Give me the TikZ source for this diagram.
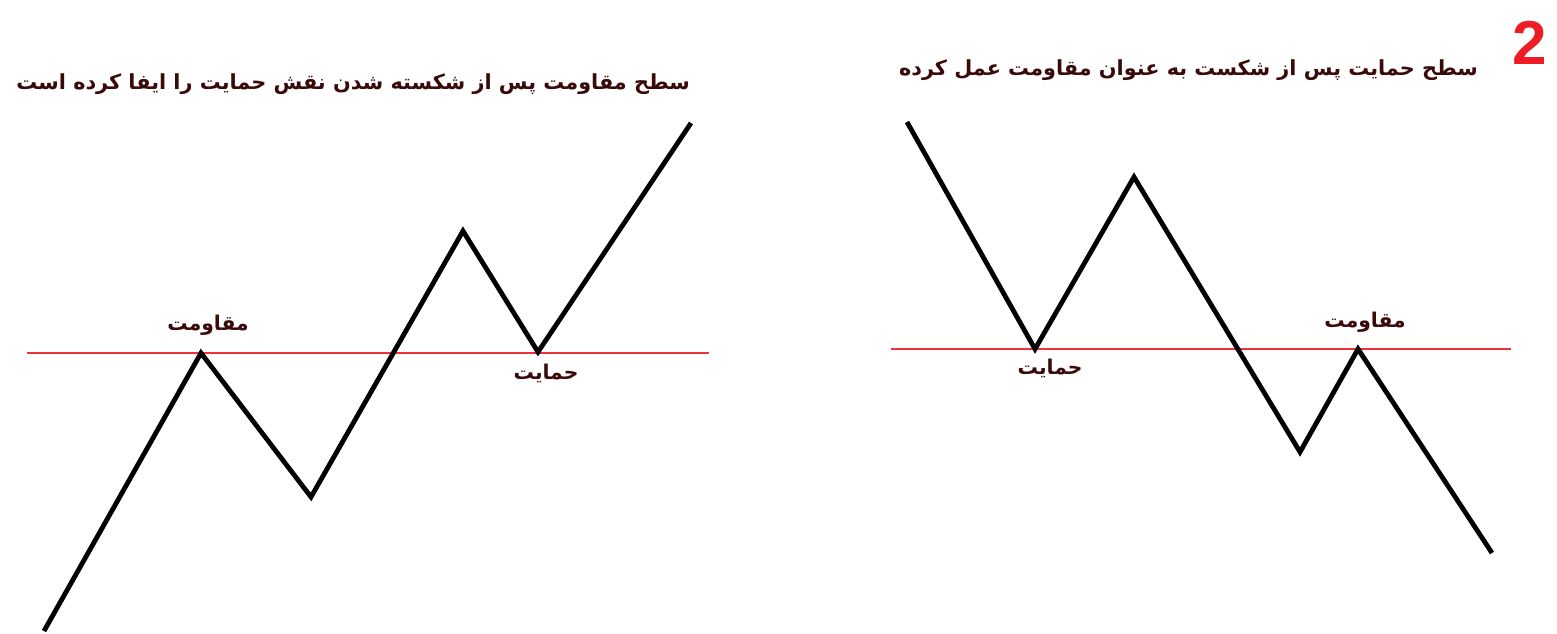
\documentclass[tikz,border=0pt]{standalone}
\usepackage{fontspec}
\TeXXeTstate=1
\newfontfamily\arabicfont[Script=Arabic]{DejaVu Sans}
\setmainfont{Liberation Sans}
\definecolor{txtc}{HTML}{3A0A0A}
\definecolor{lvl}{HTML}{F0303A}
\definecolor{numc}{HTML}{EE1C25}
\begin{document}
\begin{tikzpicture}[x=1pt,y=-1pt,
  price/.style={line width=4.8pt, black, line join=miter},
  level/.style={line width=1.6pt, lvl},
  title/.style={text=txtc, font=\arabicfont\bfseries\fontsize{20.8}{24}\selectfont, inner sep=0pt},
  lab/.style={text=txtc, font=\arabicfont\bfseries\fontsize{20.3}{24}\selectfont, inner sep=0pt}]
\useasboundingbox (0,0) rectangle (1557,633);
% left panel
\coordinate (l1) at (44,631);
\coordinate (l2) at (201,353);
\coordinate (l3) at (311,497);
\coordinate (l4) at (463,231);
\coordinate (l5) at (538,352);
\coordinate (l6) at (691,123);
\coordinate (la) at (27,353);
\coordinate (lb) at (709,353);
\draw[level] (la) -- (lb);
\draw[price] (l1) -- (l2) -- (l3) -- (l4) -- (l5) -- (l6);
\node[title, anchor=east] (lt) at (690,84) {\beginR سطح مقاومت پس از شکسته شدن نقش حمایت را ایفا کرده است\endR};
\node[lab] (lr) at (208,325) {\beginR مقاومت\endR};
\node[lab] (ls) at (546,373) {\beginR حمایت\endR};
% right panel
\coordinate (r1) at (907,122);
\coordinate (r2) at (1035,349);
\coordinate (r3) at (1134,177);
\coordinate (r4) at (1300,452);
\coordinate (r5) at (1358,349);
\coordinate (r6) at (1492,553);
\coordinate (ra) at (891,349);
\coordinate (rb) at (1511,349);
\draw[level] (ra) -- (rb);
\draw[price] (r1) -- (r2) -- (r3) -- (r4) -- (r5) -- (r6);
\node[title, anchor=east] (rt) at (1478,70) {\beginR سطح حمایت پس از شکست به عنوان مقاومت عمل کرده\endR};
\node[lab] (rs) at (1050,368) {\beginR حمایت\endR};
\node[lab] (rr) at (1365,322) {\beginR مقاومت\endR};
\node[text=numc, font=\bfseries\fontsize{62}{62}\selectfont, inner sep=0pt] (num) at (1530,43) {2};
\end{tikzpicture}
\end{document}
